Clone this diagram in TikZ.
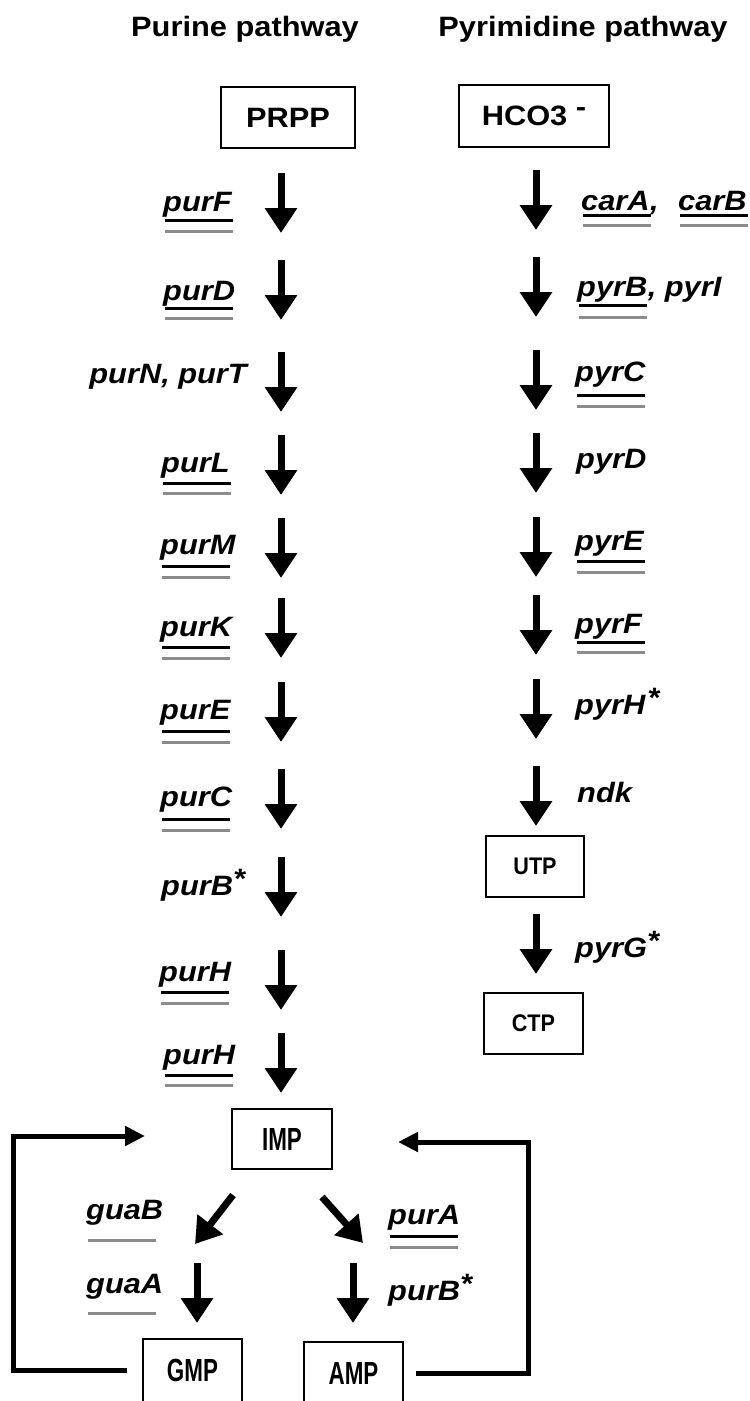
\documentclass[tikz,border=0pt]{standalone}
\usepackage{fontspec}
\setmainfont{Liberation Sans}
\newfontfamily\widefont[FakeStretch=1.1]{Liberation Sans}
\newfontfamily\narrowfont[FakeStretch=0.7]{Liberation Sans}
\newfontfamily\semifont[FakeStretch=0.9]{Liberation Sans}
\usetikzlibrary{arrows.meta}
\newcommand{\sast}{\raisebox{7pt}{*}}
\newcommand{\dul}[3]{%
  \draw[ulb] (#1.base west |- 0,#2) ++(2pt,0pt) -- ++(68pt,0pt);
  \draw[ulg] (#1.base west |- 0,#3) ++(2pt,0pt) -- ++(68pt,0pt);}
\newcommand{\gul}[2]{%
  \draw[ulg] (#1.base west |- 0,#2) ++(2pt,0pt) -- ++(68pt,0pt);}
\begin{document}
\begin{tikzpicture}[x=1pt,y=-1pt,
  hdr/.style={font=\widefont\bfseries\fontsize{28}{30}\selectfont, inner sep=0pt, anchor=base},
  gene/.style={font=\widefont\bfseries\itshape\fontsize{28}{30}\selectfont, inner sep=0pt, anchor=base west},
  geneR/.style={gene, anchor=base east},
  srcbox/.style={draw, line width=2pt, inner sep=0pt, font=\widefont\bfseries\fontsize{28}{30}\selectfont},
  metbox/.style={draw, line width=2pt, inner sep=0pt, minimum width=99pt, minimum height=61pt, font=\narrowfont\bfseries\fontsize{32}{34}\selectfont},
  pyrbox/.style={metbox, font=\semifont\bfseries\fontsize{24}{26}\selectfont},
  flow/.style={line width=7pt, -{Triangle[width=31pt,length=25pt]}},
  loopflow/.style={line width=5pt, line join=miter, -{Triangle[width=19pt,length=20pt]}},
  ulb/.style={line width=3pt, black},
  ulg/.style={line width=3pt, black!45},
]
\useasboundingbox (0,0) rectangle (750,1401);
\clip (0,0) rectangle (750,1401);

% headers
\node[hdr] (hpur) at (245,36) {Purine pathway};
\node[hdr] (hpyr) at (583,36) {Pyrimidine pathway};

% metabolite boxes
\node[srcbox, minimum width=134pt, minimum height=61pt] (prpp) at (288,117.5) {PRPP};
\node[srcbox, minimum width=150pt, minimum height=62pt] (hco3) at (534,116) {HCO3 \raisebox{9pt}{-}};
\node[pyrbox, minimum width=98pt] (utp) at (535,866.5) {UTP};
\node[pyrbox] (ctp) at (533.5,1023.5) {CTP};
\node[metbox, minimum width=100pt, minimum height=60pt] (imp) at (282,1139) {IMP};
\node[metbox, minimum height=63pt] (gmp) at (192.5,1370.5) {GMP};
\node[metbox, minimum height=63pt] (amp) at (353.5,1373.5) {AMP};

% purine arrows
\foreach \n/\s/\t in {F/173/233, D/260/320, N/352/412, L/435/495, M/518/578, K/598/658, E/682/742, C/769/829, B/857/917, Ha/950/1010, Hb/1033/1093}{
  \coordinate (pu\n s) at (281,\s);
  \coordinate (pu\n t) at (281,\t);
  \draw[flow] (pu\n s) -- (pu\n t);
}
% pyrimidine arrows
\foreach \n/\s/\t in {car/170/230, B/257/317, C/350/410, D/433/493, E/517/577, F/595/655, H/679/739, ndk/766/826, G/914/974}{
  \coordinate (py\n s) at (536,\s);
  \coordinate (py\n t) at (536,\t);
  \draw[flow] (py\n s) -- (py\n t);
}

% purine genes
\node[gene] (gpurF) at (163,211) {purF}; \dul{gpurF}{220}{231}
\node[gene] (gpurD) at (163,300) {purD}; \dul{gpurD}{308}{318}
\node[geneR] (gpurNT) at (247,383) {purN, purT};
\node[gene] (gpurL) at (161,472) {purL}; \dul{gpurL}{483}{493}
\node[gene] (gpurM) at (160,554) {purM}; \dul{gpurM}{566}{577}
\node[gene] (gpurK) at (160,636) {purK}; \dul{gpurK}{647}{658}
\node[gene] (gpurE) at (160,719) {purE}; \dul{gpurE}{731}{742}
\node[gene] (gpurC) at (160,806) {purC}; \dul{gpurC}{819}{830}
\node[gene] (gpurB) at (161,895) {purB\sast};
\node[gene] (gpurHa) at (159,981) {purH}; \dul{gpurHa}{992}{1003}
\node[gene] (gpurHb) at (163,1064) {purH}; \dul{gpurHb}{1075}{1085}

% pyrimidine genes
\node[gene] (gcarA) at (581,210) {carA}; \dul{gcarA}{215}{225}
\node[gene] (gcomma) at (gcarA.base east) {,};
\node[gene] (gcarB) at (678,210) {carB}; \dul{gcarB}{215}{225}
\node[gene] (gpyrB) at (577,296) {pyrB}; \dul{gpyrB}{305}{317}
\node[gene] (gpyrI) at (gpyrB.base east) {, pyrI};
\node[gene] (gpyrC) at (575,381) {pyrC}; \dul{gpyrC}{395}{406}
\node[gene] (gpyrD) at (576,468) {pyrD};
\node[gene] (gpyrE) at (575,550) {pyrE}; \dul{gpyrE}{561}{572}
\node[gene] (gpyrF) at (575,633) {pyrF}; \dul{gpyrF}{642}{652}
\node[gene] (gpyrH) at (575,714) {pyrH\kern2pt\sast};
\node[gene] (gndk) at (577,802) {ndk};
\node[gene] (gpyrG) at (575,957) {pyrG\sast};

% IMP branches
\coordinate (gbS) at (233,1195); \coordinate (gbT) at (195,1244);
\coordinate (paS) at (322,1197); \coordinate (paT) at (363,1243);
\coordinate (gaS) at (197,1263); \coordinate (gaT) at (197,1323);
\coordinate (pbS) at (353,1263); \coordinate (pbT) at (353,1323);
\draw[flow] (gbS) -- (gbT);
\draw[flow] (paS) -- (paT);
\draw[flow] (gaS) -- (gaT);
\draw[flow] (pbS) -- (pbT);

\node[gene] (gguaB) at (86,1219) {guaB}; \gul{gguaB}{1240}
\node[gene] (gguaA) at (86,1293) {guaA}; \gul{gguaA}{1313}
\node[gene] (gpurA) at (388,1224) {purA}; \dul{gpurA}{1236}{1247}
\node[gene] (gpurB2) at (388,1300) {purB\sast};

% feedback loops
\coordinate (gmpout) at ([xshift=-15pt]gmp.west);
\coordinate (ltop) at (13,1136);
\coordinate (impinL) at (145,1136);
\draw[loopflow] (gmpout) -| (ltop) -- (impinL);
\coordinate (ampout) at ([xshift=12pt]amp.east);
\coordinate (rtop) at (528,1142);
\coordinate (impinR) at (398,1142);
\draw[loopflow] (ampout) -| (rtop) -- (impinR);
\end{tikzpicture}
\end{document}
